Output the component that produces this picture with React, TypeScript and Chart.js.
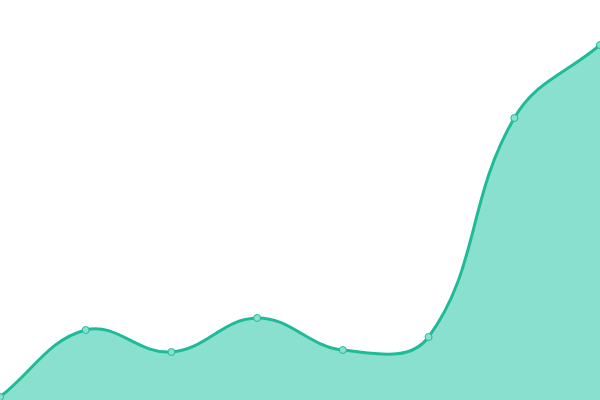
import { useEffect, useRef } from 'react';
import { Chart, registerables } from 'chart.js';

Chart.register(...registerables);

const labels = ['1', '2', '3', '4', '5', '6', '7', '8'];
const values = [3, 70, 48, 82, 50, 63, 282, 355];

export default function App() {
  const canvasRef = useRef<HTMLCanvasElement>(null);
  const chartRef = useRef<Chart | null>(null);

  useEffect(() => {
    if (!canvasRef.current) return;
    chartRef.current?.destroy();

    chartRef.current = new Chart(canvasRef.current, {
      type: 'line',
      data: {
        labels,
        datasets: [
          {
            data: values,
            fill: true,
            tension: 0.4,
            borderColor: '#1fbb97',
            backgroundColor: '#89e0cf',
            borderWidth: 3,
            pointRadius: 3.5,
            pointBorderWidth: 1,
            pointBackgroundColor: '#89e0cf',
            pointBorderColor: '#1fbb97',
          },
        ],
      },
      options: {
        responsive: true,
        maintainAspectRatio: false,
        animation: false,
        layout: { padding: 0, autoPadding: false },
        plugins: { legend: { display: false }, tooltip: { enabled: false } },
        scales: {
          x: { display: false, offset: false },
          y: { display: false, min: 0, max: 400 },
        },
      },
    });

    return () => { chartRef.current?.destroy(); };
  }, []);

  return (
    <div style={{ position: 'fixed', left: 0, top: 0, width: 600, height: 400, background: '#fff' }}>
      <canvas ref={canvasRef} />
    </div>
  );
}
